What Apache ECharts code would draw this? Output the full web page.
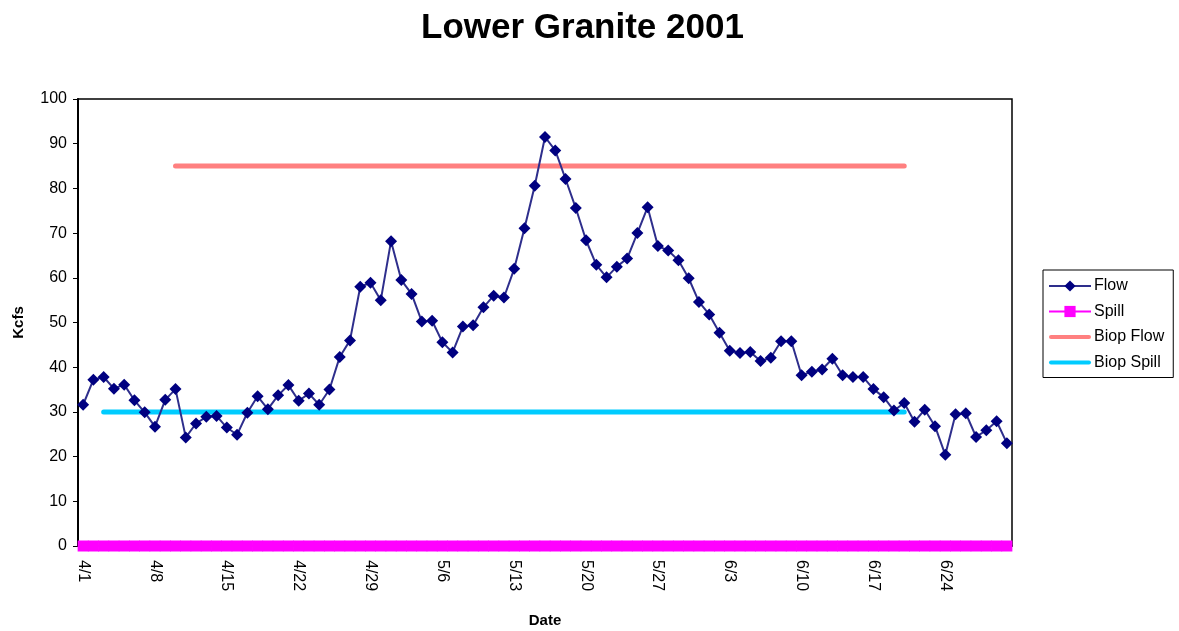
<!DOCTYPE html>
<html>
<head>
<meta charset="utf-8">
<title>Lower Granite 2001</title>
<script src="https://cdn.jsdelivr.net/npm/echarts@6/dist/echarts.min.js"></script>
<style>
  html, body { margin: 0; padding: 0; background: #fff; }
  #chart { width: 1179px; height: 631px; }
</style>
</head>
<body>
<div id="chart"></div>
<script>
// dates 4/1 .. 6/30
const dates = [
  '4/1', '4/2', '4/3', '4/4', '4/5', '4/6', '4/7', '4/8', '4/9', '4/10',
  '4/11', '4/12', '4/13', '4/14', '4/15', '4/16', '4/17', '4/18', '4/19', '4/20',
  '4/21', '4/22', '4/23', '4/24', '4/25', '4/26', '4/27', '4/28', '4/29', '4/30',
  '5/1', '5/2', '5/3', '5/4', '5/5', '5/6', '5/7', '5/8', '5/9', '5/10',
  '5/11', '5/12', '5/13', '5/14', '5/15', '5/16', '5/17', '5/18', '5/19', '5/20',
  '5/21', '5/22', '5/23', '5/24', '5/25', '5/26', '5/27', '5/28', '5/29', '5/30',
  '5/31', '6/1', '6/2', '6/3', '6/4', '6/5', '6/6', '6/7', '6/8', '6/9',
  '6/10', '6/11', '6/12', '6/13', '6/14', '6/15', '6/16', '6/17', '6/18', '6/19',
  '6/20', '6/21', '6/22', '6/23', '6/24', '6/25', '6/26', '6/27', '6/28', '6/29',
  '6/30',
];

const flow = [
  31.6, 37.2, 37.8, 35.2, 36.1, 32.6, 29.9, 26.7, 32.7, 35.1,
  24.3, 27.4, 28.9, 29.1, 26.5, 24.9, 29.8, 33.5, 30.6, 33.7,
  36.0, 32.5, 34.1, 31.6, 35.0, 42.3, 46.0, 58.0, 58.9, 55.0,
  68.2, 59.5, 56.4, 50.2, 50.4, 45.6, 43.3, 49.1, 49.4, 53.4,
  56.0, 55.6, 62.0, 71.1, 80.6, 91.5, 88.5, 82.1, 75.6, 68.4,
  62.9, 60.1, 62.5, 64.3, 70.0, 75.8, 67.1, 66.1, 63.9, 59.9,
  54.6, 51.8, 47.7, 43.7, 43.2, 43.4, 41.4, 42.1, 45.8, 45.8,
  38.2, 39.0, 39.5, 41.9, 38.2, 37.8, 37.8, 35.1, 33.3, 30.3,
  32.0, 27.8, 30.5, 26.8, 20.4, 29.5, 29.7, 24.4, 25.9, 27.9,
  23.0,
];

const spill = [
  0, 0, 0, 0, 0, 0, 0, 0, 0, 0,
  0, 0, 0, 0, 0, 0, 0, 0, 0, 0,
  0, 0, 0, 0, 0, 0, 0, 0, 0, 0,
  0, 0, 0, 0, 0, 0, 0, 0, 0, 0,
  0, 0, 0, 0, 0, 0, 0, 0, 0, 0,
  0, 0, 0, 0, 0, 0, 0, 0, 0, 0,
  0, 0, 0, 0, 0, 0, 0, 0, 0, 0,
  0, 0, 0, 0, 0, 0, 0, 0, 0, 0,
  0, 0, 0, 0, 0, 0, 0, 0, 0, 0,
  0,
];

// biop targets: [start date, value], [end date, value]
const biopFlow = [['4/10', 85], ['6/20', 85]];
const biopSpill = [['4/3', 30], ['6/20', 30]];

const yTicks = { min: 0, max: 100, interval: 10 };

const chart = echarts.init(document.getElementById('chart'));
const font = 'Arial, "Liberation Sans", sans-serif';
// thick rounded bar centred in a 42x14 box, for the plain-line legend items
const barIcon = 'path://M0,0 M42,14 M2,5 L40,5 A2,2 0 0 1 40,9 L2,9 A2,2 0 0 1 2,5 Z';

chart.setOption({
  backgroundColor: '#fff',
  animation: false,
  textStyle: { fontFamily: font, color: '#000' },
  title: {
    text: 'Lower Granite 2001',
    left: 416,
    top: 6,
    textStyle: { fontSize: 35, fontWeight: 'bold', color: '#000', fontFamily: font },
  },
  legend: {
    orient: 'vertical',
    left: 1043,
    top: 270,
    padding: [8, 9, 7, 5],
    itemGap: 9.5,
    itemWidth: 42,
    itemHeight: 14,
    borderColor: '#000',
    borderWidth: 1,
    backgroundColor: '#fff',
    textStyle: { fontSize: 16, color: '#000', fontFamily: font, padding: [0, 0, 0, -2] },
    data: [
      { name: 'Flow' },
      { name: 'Spill' },
      { name: 'Biop Flow', icon: barIcon },
      { name: 'Biop Spill', icon: barIcon },
    ],
  },
  grid: {
    left: 78, right: 167, top: 99, bottom: 85,
    outerBoundsMode: 'none',
    show: true, borderColor: '#000', borderWidth: 1.5,
  },
  xAxis: {
    type: 'category',
    data: dates,
    boundaryGap: true,
    name: 'Date',
    nameLocation: 'middle',
    nameGap: 67,
    nameTextStyle: { fontSize: 15, fontWeight: 'bold', color: '#000' },
    axisLine: { lineStyle: { color: '#000', width: 1.5 } },
    axisTick: { show: false },
    axisLabel: { interval: 6, rotate: -90, fontSize: 16, color: '#000', margin: 14 },
    splitLine: { show: false },
  },
  yAxis: {
    type: 'value',
    min: yTicks.min,
    max: yTicks.max,
    interval: yTicks.interval,
    name: 'Kcfs',
    nameLocation: 'middle',
    nameRotate: 90,
    nameGap: 52,
    nameTextStyle: { fontSize: 15, fontWeight: 'bold', color: '#000' },
    axisLine: { show: true, lineStyle: { color: '#000', width: 2 } },
    axisTick: { show: true, length: 5, lineStyle: { color: '#000' } },
    axisLabel: { fontSize: 16, color: '#000', margin: 11 },
    splitLine: { show: false },
  },
  series: [
    {
      name: 'Flow',
      type: 'line',
      data: flow,
      z: 5,
      symbol: 'diamond',
      symbolSize: 12,
      showAllSymbol: true,
      lineStyle: { color: '#2e2e8c', width: 2 },
      itemStyle: { color: '#000080' },
    },
    {
      name: 'Spill',
      type: 'line',
      data: spill,
      z: 2,
      symbol: 'rect',
      symbolSize: 11,
      showAllSymbol: true,
      lineStyle: { color: '#ff00ff', width: 2 },
      itemStyle: { color: '#ff00ff' },
    },
    {
      name: 'Biop Flow',
      type: 'line',
      data: biopFlow,
      z: 3,
      symbol: 'none',
      lineStyle: { color: '#ff8080', width: 5, cap: 'round' },
      itemStyle: { color: '#ff8080' },
    },
    {
      name: 'Biop Spill',
      type: 'line',
      data: biopSpill,
      z: 3,
      symbol: 'none',
      lineStyle: { color: '#00ccff', width: 5, cap: 'round' },
      itemStyle: { color: '#00ccff' },
    },
  ],
});
</script>
</body>
</html>
